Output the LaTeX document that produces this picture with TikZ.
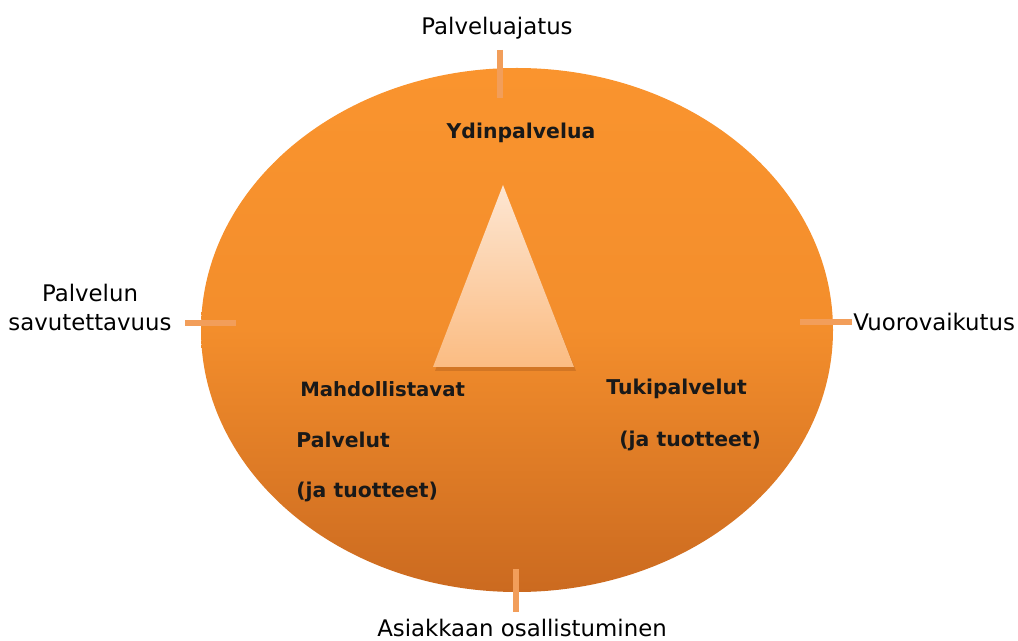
\documentclass[tikz,border=0pt]{standalone}
\usepackage{fontspec}
\setmainfont{DejaVu Sans}
\begin{document}
\begin{tikzpicture}[x=0.02cm,y=-0.02cm,
  lbl/.style={inner sep=0pt, font=\fontsize{13}{15}\selectfont, text=black},
  inl/.style={inner sep=0pt, font=\fontsize{11.6}{14}\selectfont\bfseries, text=black!90},
  tick/.style={draw=tickor, line width=1.2mm, line cap=butt}]
\definecolor{ortop}{RGB}{250,148,46}
\definecolor{orbot}{RGB}{203,106,32}
\definecolor{tritop}{RGB}{253,230,210}
\definecolor{tribot}{RGB}{251,188,130}
\definecolor{tickor}{RGB}{242,158,90}
\useasboundingbox (0,0) rectangle (1018,641);
% ellipse
\shade[top color=ortop, bottom color=orbot, middle color=ortop!85!orbot] (517,330) ellipse [x radius=316, y radius=262];
% triangle shadow + triangle
\fill[orbot!80!black, opacity=0.35] (503,188) -- (435,371) -- (576,371) -- cycle;
\shade[top color=tritop, bottom color=tribot] (503,185) -- (433,367) -- (574,367) -- cycle;
% ticks
\draw[tick] (500,50) -- (500,98);
\draw[tick] (185,323) -- (236,323);
\draw[tick] (800,322) -- (852,322);
\draw[tick] (516,569) -- (516,612);
% outer labels
\node[lbl] (pa) at (497,28) {Palveluajatus};
\node[lbl] (pl1) at (90,293) {Palvelun};
\node[lbl] (pl2) at (90,323) {savutettavuus};
\node[lbl, anchor=west] (vu) at (853,322) {Vuorovaikutus};
\node[lbl] (as) at (522,628) {Asiakkaan osallistuminen};
% inner labels
\node[inl] (yd) at (521,133) {Ydinpalvelua};
\node[inl, anchor=west, font=\fontsize{11.2}{14}\selectfont\bfseries] (ma) at (300,389) {Mahdollistavat};
\node[inl, anchor=west] (pv) at (296,440) {Palvelut};
\node[inl, anchor=west] (jt1) at (296,492) {(ja tuotteet)};
\node[inl, anchor=west] (tu) at (606,389) {Tukipalvelut};
\node[inl, anchor=west] (jt2) at (619,441) {(ja tuotteet)};
\end{tikzpicture}
\end{document}
